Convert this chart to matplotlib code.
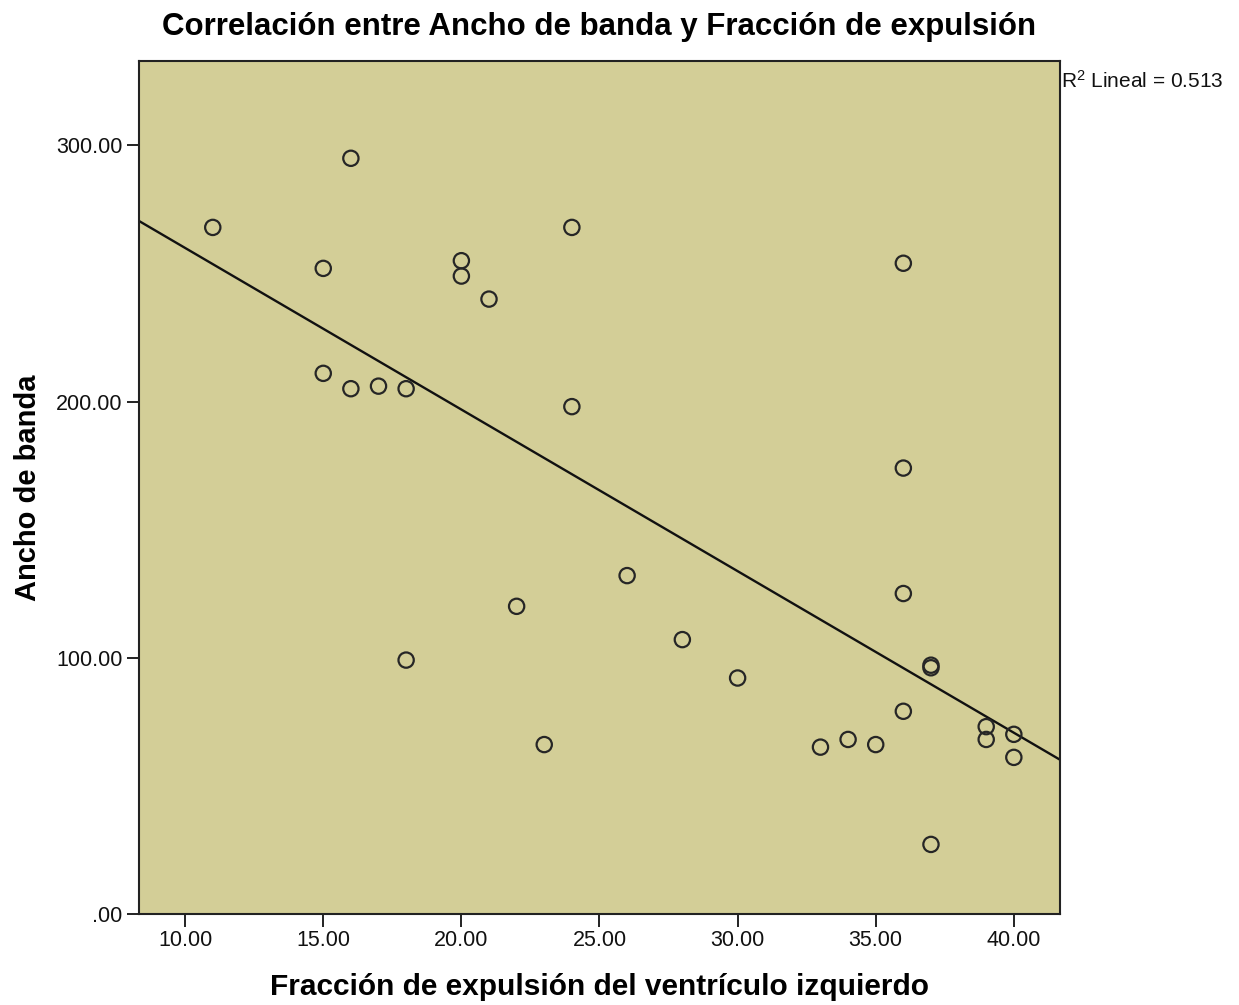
import numpy as np
import matplotlib
matplotlib.use("Agg")
import matplotlib.pyplot as plt
from matplotlib.ticker import FuncFormatter

plt.rcParams['font.family'] = ['Liberation Sans', 'DejaVu Sans']
plt.rcParams['mathtext.fontset'] = 'custom'
plt.rcParams['mathtext.rm'] = 'Liberation Sans'
plt.rcParams['mathtext.it'] = 'Liberation Sans'

# Fracción de expulsión del ventrículo izquierdo (%)
fraccion = [11, 15, 15, 16, 16, 17, 18, 18, 20, 20, 21, 22, 23, 24, 24, 26,
            28, 30, 33, 34, 35, 36, 36, 36, 36, 37, 37, 37, 39, 39, 40, 40]
# Ancho de banda
ancho = [268, 252, 211, 295, 205, 206, 205, 99, 255, 249, 240, 120, 66, 268, 198, 132,
         107, 92, 65, 68, 66, 254, 174, 125, 79, 96, 97, 27, 73, 68, 70, 61]

x_ticks = [10, 15, 20, 25, 30, 35, 40]
y_ticks = [0, 100, 200, 300]
r2_label = "0.513"

x = np.array(fraccion, dtype=float)
y = np.array(ancho, dtype=float)

fig = plt.figure(figsize=(12.39, 10.05), dpi=100)
ax = fig.add_axes([0.1122, 0.0910, 0.7433, 0.8483])
ax.set_facecolor('#D3CE97')

ax.scatter(x, y, s=11**2, facecolors='none', edgecolors='#262626', linewidths=1.6, zorder=3)

# Recta de regresión lineal
xlim = (8.33, 41.67)
slope, intercept = np.polyfit(x, y, 1)
xs = np.array(xlim)
ax.plot(xs, intercept + slope * xs, color='#111111', linewidth=1.7, zorder=2)

ax.set_xlim(*xlim)
ax.set_ylim(0, 333)
ax.set_xticks(x_ticks)
ax.set_yticks(y_ticks)

def fmt(v, pos):
    s = f"{v:.2f}"
    return s[1:] if s.startswith("0") else s

ax.xaxis.set_major_formatter(FuncFormatter(fmt))
ax.yaxis.set_major_formatter(FuncFormatter(fmt))
ax.tick_params(axis='both', direction='out', length=9, width=1.4, color='#222222',
               labelsize=15.5, pad=3, labelcolor='#111111')
for side in ['left', 'bottom', 'top', 'right']:
    ax.spines[side].set_color('#222222')
    ax.spines[side].set_linewidth(1.5)

ax.set_title("Correlación entre Ancho de banda y Fracción de expulsión",
             fontsize=22.5, fontweight='bold', pad=19)
ax.set_xlabel("Fracción de expulsión del ventrículo izquierdo", fontsize=21.5,
              fontweight='bold', labelpad=16)
ax.set_ylabel("Ancho de banda", fontsize=21, fontweight='bold', labelpad=10)

fig.text(0.8565, 0.920, r"R$^{\mathrm{2}}$ Lineal = " + r2_label, fontsize=15,
         ha='left', va='center', color='#111111')

fig.savefig("out.png", dpi=100, facecolor='white')
